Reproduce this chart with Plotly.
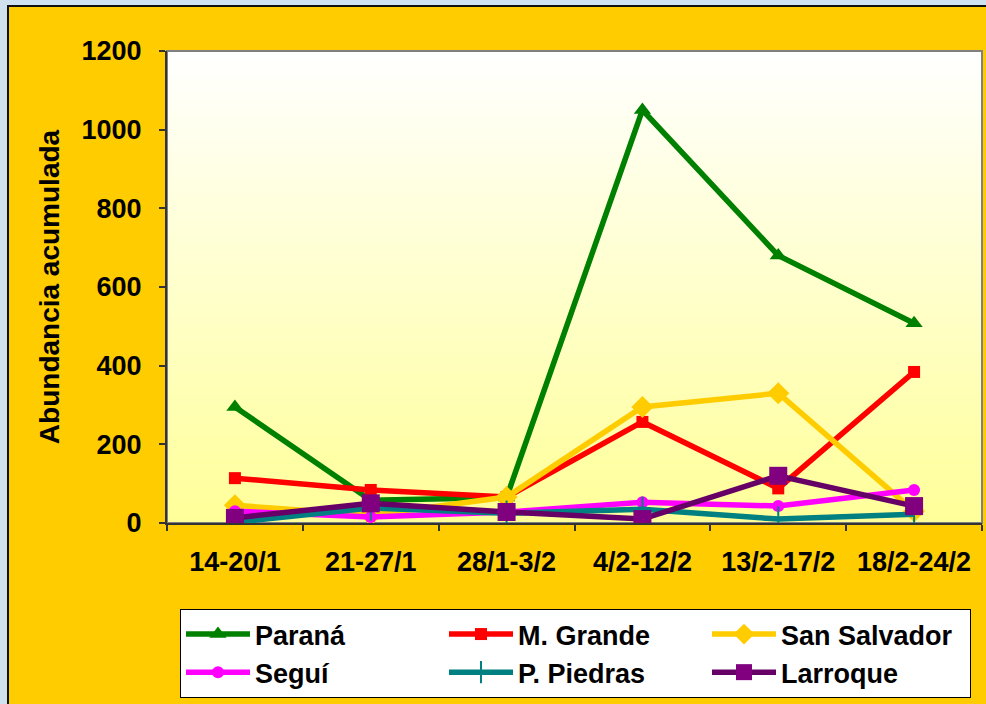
import plotly.graph_objects as go

categories = ["14-20/1", "21-27/1", "28/1-3/2", "4/2-12/2", "13/2-17/2", "18/2-24/2"]
parana = [295, 58, 65, 1050, 680, 508]
m_grande = [114, 84, 66, 257, 88, 384]
san_salvador = [45, 20, 66, 295, 330, 30]
segui = [30, 15, 28, 53, 43, 84]
p_piedras = [2, 38, 25, 35, 10, 22]
larroque = [13, 50, 28, 10, 120, 43]
y_ticks = [0, 200, 400, 600, 800, 1000, 1200]

FONT = "Liberation Sans, Arial, sans-serif"

series = [
    ("Paraná", parana, "#008000", "#008000", "triangle-up", 15, 0),
    ("M. Grande", m_grande, "#FF0000", "#FF0000", "square", 12, 0),
    ("San Salvador", san_salvador, "#FFCC00", "#FFCC00", "diamond", 17, 0),
    ("Seguí", segui, "#FF00FF", "#FF00FF", "circle", 12, 0),
    ("P. Piedras", p_piedras, "#008080", "#008080", "line-ns", 18, 2),
    ("Larroque", larroque, "#660066", "#800080", "square", 18, 0),
]

fig = go.Figure()
for name, vals, lc, mc, sym, size, mlw in series:
    fig.add_trace(go.Scatter(
        x=categories, y=vals, name=name, mode="lines+markers",
        line=dict(color=lc, width=5.5),
        marker=dict(symbol=sym, size=size, color=mc,
                    line=dict(color=mc, width=mlw)),
    ))

# layout geometry
L, R, T, B = 167, 4, 51, 181
W, H = 986, 704
pw, ph = W - L - R, H - T - B

def px_x(p):
    return (p - L) / pw

def px_y(p):
    return (H - B - p) / ph

shapes = []
# yellow outer panel
shapes.append(dict(type="rect", xref="paper", yref="paper",
                   x0=px_x(8), x1=px_x(W + 10), y0=px_y(H + 10), y1=px_y(6),
                   fillcolor="#FFCC00", line=dict(color="#111111", width=2),
                   layer="below"))
# gradient plot area: white top -> light yellow bottom
n = 80
top = (255, 255, 255)
bot = (255, 255, 153)
for i in range(n):
    t = (i + 0.5) / n  # 0 bottom -> 1 top
    c = tuple(round(bot[k] + (top[k] - bot[k]) * t) for k in range(3))
    shapes.append(dict(type="rect", xref="paper", yref="paper",
                       x0=0, x1=1, y0=i / n, y1=(i + 1) / n + 0.002,
                       fillcolor="rgb(%d,%d,%d)" % c, line=dict(width=0),
                       layer="below"))
# plot frame
shapes.append(dict(type="rect", xref="paper", yref="paper", x0=0, x1=1, y0=0, y1=1,
                   line=dict(color="#808080", width=2), fillcolor="rgba(0,0,0,0)",
                   layer="below"))

fig.update_layout(
    width=W, height=H,
    margin=dict(l=L, r=R, t=T, b=B, autoexpand=False),
    paper_bgcolor="#D0E1EF",
    plot_bgcolor="rgba(0,0,0,0)",
    shapes=shapes,
    font=dict(family=FONT, size=27, color="black", weight="bold"),
    showlegend=True,
    legend=dict(
        orientation="h", x=px_x(180), y=px_y(609), xanchor="left", yanchor="top",
        bgcolor="white", bordercolor="black", borderwidth=1,
        entrywidth=184, entrywidthmode="pixels", itemwidth=64,
        font=dict(family=FONT, size=27, color="black", weight="bold"),
        tracegroupgap=0,
    ),
    xaxis=dict(
        type="category", range=[-0.5, 5.5], tickson="boundaries",
        ticks="outside", ticklen=6, tickwidth=2, tickcolor="#333333",
        showline=True, linecolor="#333333", linewidth=2, showgrid=False,
        tickfont=dict(family=FONT, size=27, color="black", weight="bold"),
        ticklabelstandoff=14,
    ),
    yaxis=dict(
        range=[0, 1200], tickvals=y_ticks, ticks="outside", ticklen=6, tickwidth=2,
        tickcolor="#333333", showline=True, linecolor="#333333", linewidth=2,
        showgrid=False, zeroline=False,
        tickfont=dict(family=FONT, size=27, color="black", weight="bold"),
        ticklabelstandoff=12,
        title=dict(text="Abundancia acumulada", standoff=14,
                   font=dict(family=FONT, size=28, color="black", weight="bold")),
    ),
)

fig.write_html("out.html", config={"displayModeBar": False},
               post_script="document.body.style.margin='0';")
